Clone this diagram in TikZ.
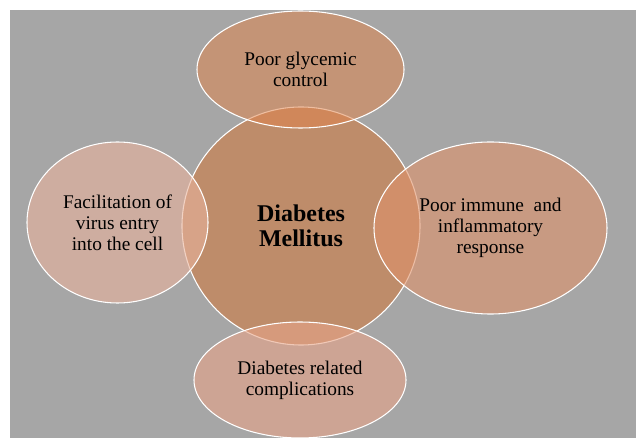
\documentclass[tikz,border=0pt]{standalone}
\usepackage{fontspec}
\setmainfont{Liberation Serif}
\usetikzlibrary{shapes, positioning}
\definecolor{panelgray}{RGB}{166,166,166}
\definecolor{hubfill}{RGB}{190,140,106}
\definecolor{topfill}{RGB}{224,132,76}
\definecolor{rightfill}{RGB}{223,146,106}
\definecolor{leftfill}{RGB}{233,179,156}
\definecolor{bottomfill}{RGB}{231,164,136}
\tikzstyle{hub}=[circle,draw=white,line width=0.8pt,fill=hubfill,inner sep=0pt,align=center,font=\fontsize{18}{19}\selectfont\bfseries]
\tikzstyle{leaf}=[ellipse,draw=white,line width=0.8pt,inner sep=0pt,fill opacity=0.6,text opacity=1,draw opacity=1,align=center,font=\fontsize{14.5}{15.8}\selectfont]

\begin{document}
\begin{tikzpicture}[x=0.75pt,y=-0.75pt]
    \useasboundingbox (0,0) rectangle (636,438);
    \fill[white] (0,0) rectangle (636,438);
    \fill[panelgray] (10,10) rectangle (636,438);
    \node[hub, minimum size=178.5pt] (dm) at (301,226) {Diabetes\\Mellitus};
    \node[leaf, fill=topfill, fill opacity=0.53, minimum width=155.25pt, minimum height=87.75pt] (glyc) at (300.5,69.5) {Poor glycemic\\control};
    \node[leaf, fill=rightfill, minimum width=174.75pt, minimum height=129pt] (immune) at (490.5,228) {Poor immune~ and\\inflammatory\\response};
    \node[leaf, fill=leftfill, minimum width=135.75pt, minimum height=120.75pt] (virus) at (117.5,222.5) {Facilitation of\\virus entry\\into the cell};
    \node[leaf, fill=bottomfill, minimum width=159pt, minimum height=87pt] (compl) at (300,380) {Diabetes related\\complications};
\end{tikzpicture}
\end{document}
